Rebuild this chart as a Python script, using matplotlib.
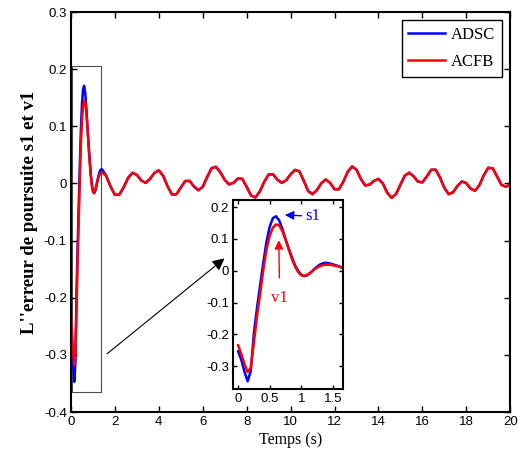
import numpy as np
import matplotlib
matplotlib.use("Agg")
import matplotlib.pyplot as plt
from matplotlib.patches import Rectangle
from matplotlib.ticker import FuncFormatter

# time grid: fine in the transient, coarser afterwards
t_head = np.round(np.arange(0, 1.601, 0.05), 2)
t_tail = np.round(np.arange(1.8, 20.001, 0.2), 2)
t = np.concatenate([t_head, t_tail])

adsc_head = [-0.253, -0.28, -0.317, -0.347, -0.315, -0.195, -0.115, -0.043, 0.027,
             0.092, 0.138, 0.165, 0.171, 0.158, 0.132, 0.100, 0.070, 0.044, 0.018,
             0.000, -0.013, -0.017, -0.014, -0.006, 0.004, 0.013, 0.020, 0.024,
             0.025, 0.023, 0.020, 0.017, 0.014]
acfb_head = [-0.234, -0.262, -0.293, -0.318, -0.305, -0.225, -0.14, -0.07, 0.005,
             0.068, 0.11, 0.135, 0.145, 0.143, 0.125, 0.098, 0.068, 0.038, 0.014,
             -0.004, -0.014, -0.016, -0.012, -0.005, 0.003, 0.010, 0.015, 0.018,
             0.019, 0.019, 0.017, 0.015, 0.013]

# steady state (both controllers overlap at this scale)
tail = [-0.005, -0.020, -0.0195, -0.0066, 0.0096, 0.0187, 0.0152, 0.0053, 0.0011, 0.008,
        0.0186, 0.0229, 0.0133, -0.0052, -0.0192, -0.0189, -0.0072, 0.0042, 0.0045, -0.0052,
        -0.0119, -0.0057, 0.0113, 0.0266, 0.0292, 0.0197, 0.0063, -0.0017, 0.0012, 0.0087,
        0.008, -0.0058, -0.0212, -0.0244, -0.014, 0.003, 0.0157, 0.0159, 0.0067, 0.001,
        0.0057, 0.016, 0.0237, 0.0213, 0.0047, -0.0133, -0.0188, -0.0115, 0.0005, 0.007,
        0.0011, -0.0101, -0.0101, 0.0031, 0.0203, 0.0298, 0.024, 0.0079, -0.0035, -0.0019,
        0.0045, 0.008, -0.0001, -0.0163, -0.025, -0.0186, -0.0021, 0.0137, 0.0189, 0.0125,
        0.0033, 0.0019, 0.0122, 0.0238, 0.0243, 0.0107, -0.0078, -0.0187, -0.0153, -0.0043,
        0.0036, 0.0006, -0.0091, -0.0127, -0.0027, 0.0147, 0.0274, 0.0266, 0.0124, -0.0025,
        -0.0055, -0.002]

adsc = np.array(adsc_head + tail)
acfb = np.array(acfb_head + tail)


def tick_fmt(v, p):
    v = round(v, 3)
    if v == 0:
        return "0"
    return "%g" % v


fmt = FuncFormatter(tick_fmt)

fig = plt.figure(figsize=(5.18, 4.63), dpi=100)
ax = fig.add_axes([0.137, 0.110, 0.848, 0.864])
ax.plot(t, adsc, color=(0, 0, 1), lw=1.8, label="ADSC")
ax.plot(t, acfb, color=(1, 0, 0), lw=1.8, label="ACFB")
ax.set_xlim(0, 20)
ax.set_ylim(-0.4, 0.3)
ax.set_xticks(np.arange(0, 21, 2))
ax.set_yticks(np.arange(-0.4, 0.31, 0.1))
ax.yaxis.set_major_formatter(fmt)
ax.tick_params(direction="in", top=True, right=True, length=4, width=1, pad=3)
for lab in ax.get_xticklabels() + ax.get_yticklabels():
    lab.set_fontfamily("Liberation Sans")
    lab.set_fontsize(9.5)
for s in ax.spines.values():
    s.set_linewidth(1.5)
ax.set_xlabel("Temps (s)", family="Liberation Serif", fontsize=11.5, labelpad=3)
ax.set_ylabel("L''erreur de poursuite s1 et v1", family="Liberation Serif",
              fontsize=13.5, fontweight="bold", labelpad=4)

leg = ax.legend(loc="upper right", prop={"family": "Liberation Serif", "size": 12},
                fancybox=False, edgecolor="black", handlelength=2.2,
                handletextpad=0.35, labelspacing=0.65, borderaxespad=0.5,
                framealpha=1)
leg.get_frame().set_linewidth(1.0)

ax.add_patch(Rectangle((0.03, -0.365), 1.32, 0.57, fill=False, ec="0.3", lw=0.8))
ax.annotate("", xy=(7.09, -0.128), xytext=(1.55, -0.301),
            arrowprops=dict(arrowstyle="-|>", color="black", lw=0.8,
                            mutation_scale=18))

# zoom of the transient
ins = fig.add_axes([0.450, 0.160, 0.212, 0.408])
ins.plot(t, adsc, color=(0, 0, 1), lw=1.8)
ins.plot(t, acfb, color=(1, 0, 0), lw=1.8)
ins.set_xlim(-0.08, 1.66)
ins.set_ylim(-0.371, 0.222)
ins.set_xticks([0, 0.5, 1, 1.5])
ins.set_yticks(np.arange(-0.3, 0.21, 0.1))
ins.xaxis.set_major_formatter(fmt)
ins.yaxis.set_major_formatter(fmt)
ins.tick_params(direction="in", top=True, right=True, length=3, width=1, pad=3)
for lab in ins.get_xticklabels() + ins.get_yticklabels():
    lab.set_fontfamily("Liberation Sans")
    lab.set_fontsize(9.5)
for s in ins.spines.values():
    s.set_linewidth(1.5)

ins.annotate("s1", xy=(0.74, 0.175), xytext=(1.07, 0.171), color=(0, 0, 1),
             family="Liberation Serif", fontsize=12, va="center",
             arrowprops=dict(arrowstyle="-|>", color=(0, 0, 1), lw=1,
                             mutation_scale=13, shrinkA=1, shrinkB=0))
ins.annotate("v1", xy=(0.643, 0.096), xytext=(0.66, -0.087), color=(1, 0, 0),
             family="Liberation Serif", fontsize=12, ha="center", va="center",
             arrowprops=dict(arrowstyle="-|>", color=(1, 0, 0), lw=1,
                             mutation_scale=13, shrinkA=7, shrinkB=0))

fig.savefig("out.png", dpi=100)
